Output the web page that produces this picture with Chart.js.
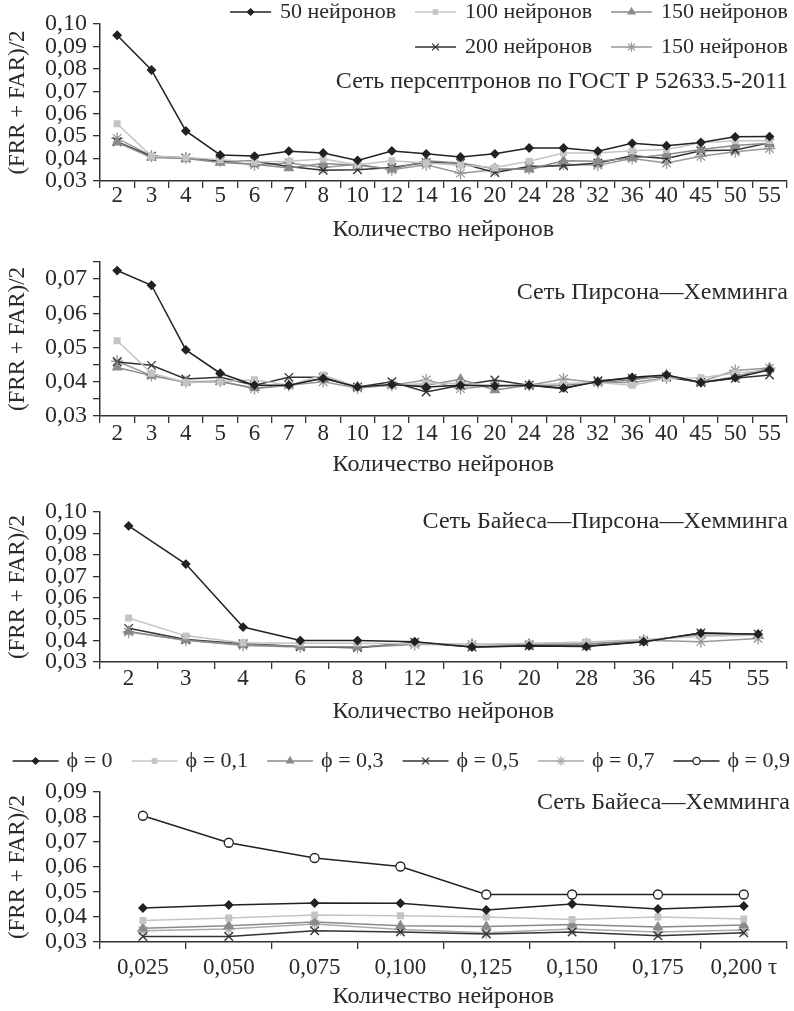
<!DOCTYPE html>
<html>
<head>
<meta charset="utf-8">
<script src="https://cdn.jsdelivr.net/npm/chart.js@4.4.1/dist/chart.umd.min.js"></script>
<style>
  body { margin: 0; background: #fff; }
  .box { position: absolute; left: 0; width: 794px; }
</style>
</head>
<body>
<div class="box" style="top:0px"><canvas id="c1" width="794" height="244"></canvas></div>
<div class="box" style="top:240px"><canvas id="c2" width="794" height="239"></canvas></div>
<div class="box" style="top:480px"><canvas id="c3" width="794" height="246"></canvas></div>
<div class="box" style="top:728px"><canvas id="c4" width="794" height="283"></canvas></div>
<script>
// категории (количество нейронов)
const neurons = ['2', '3', '4', '5', '6', '7', '8', '10', '12', '14', '16', '20', '24', '28', '32', '36', '40', '45', '50', '55'];
const neuronsBPH = ['2', '3', '4', '6', '8', '12', '16', '20', '28', '36', '45', '55'];
const taus = ['0,025', '0,050', '0,075', '0,100', '0,125', '0,150', '0,175', '0,200'];

const netNames = ['50 нейронов', '100 нейронов', '150 нейронов', '200 нейронов', '150 нейронов'];
const phiNames = ['ϕ = 0', 'ϕ = 0,1', 'ϕ = 0,3', 'ϕ = 0,5', 'ϕ = 0,7', 'ϕ = 0,9'];

// Сеть персептронов по ГОСТ
const gost50 = [0.0950, 0.0795, 0.0523, 0.0416, 0.0411, 0.0433, 0.0425, 0.0392, 0.0434, 0.0421, 0.0407, 0.0421, 0.0447, 0.0447, 0.0433, 0.0468, 0.0457, 0.0472, 0.0497, 0.0498];
const gost100 = [0.0555, 0.0410, 0.0405, 0.0395, 0.0385, 0.0388, 0.0398, 0.0372, 0.0390, 0.0380, 0.0370, 0.0360, 0.0388, 0.0425, 0.0425, 0.0435, 0.0440, 0.0470, 0.0480, 0.0480];
const gost150 = [0.0472, 0.0405, 0.0400, 0.0382, 0.0375, 0.0358, 0.0378, 0.0370, 0.0352, 0.0390, 0.0380, 0.0355, 0.0352, 0.0390, 0.0388, 0.0402, 0.0418, 0.0440, 0.0458, 0.0468];
const gost200 = [0.0475, 0.0410, 0.0402, 0.0390, 0.0388, 0.0365, 0.0348, 0.0350, 0.0360, 0.0382, 0.0380, 0.0338, 0.0365, 0.0368, 0.0380, 0.0412, 0.0400, 0.0435, 0.0438, 0.0470];
const gost150b = [0.0490, 0.0412, 0.0403, 0.0390, 0.0372, 0.0380, 0.0360, 0.0375, 0.0350, 0.0372, 0.0335, 0.0350, 0.0355, 0.0375, 0.0370, 0.0400, 0.0380, 0.0410, 0.0430, 0.0445];

// Сеть Пирсона—Хемминга
const ph50 = [0.0725, 0.0682, 0.0493, 0.0425, 0.0390, 0.0390, 0.0410, 0.0385, 0.0392, 0.0385, 0.0390, 0.0388, 0.0390, 0.0382, 0.0400, 0.0413, 0.0420, 0.0398, 0.0412, 0.0435];
const ph100 = [0.0520, 0.0425, 0.0398, 0.0400, 0.0406, 0.0390, 0.0420, 0.0385, 0.0390, 0.0395, 0.0395, 0.0390, 0.0390, 0.0395, 0.0398, 0.0390, 0.0410, 0.0412, 0.0425, 0.0435];
const ph150 = [0.0442, 0.0418, 0.0398, 0.0400, 0.0382, 0.0390, 0.0410, 0.0385, 0.0390, 0.0390, 0.0407, 0.0376, 0.0390, 0.0390, 0.0398, 0.0405, 0.0420, 0.0398, 0.0415, 0.0440];
const ph200 = [0.0458, 0.0448, 0.0408, 0.0413, 0.0390, 0.0413, 0.0413, 0.0385, 0.0400, 0.0370, 0.0390, 0.0405, 0.0390, 0.0380, 0.0403, 0.0410, 0.0415, 0.0398, 0.0410, 0.0420];
const ph150b = [0.0460, 0.0418, 0.0400, 0.0402, 0.0380, 0.0390, 0.0400, 0.0382, 0.0390, 0.0405, 0.0380, 0.0390, 0.0390, 0.0408, 0.0398, 0.0398, 0.0412, 0.0400, 0.0433, 0.0440];

// Сеть Байеса—Пирсона—Хемминга
const bph50 = [0.0935, 0.0757, 0.0463, 0.0400, 0.0400, 0.0395, 0.0370, 0.0375, 0.0372, 0.0395, 0.0435, 0.0430];
const bph100 = [0.0505, 0.0422, 0.0390, 0.0388, 0.0388, 0.0385, 0.0382, 0.0387, 0.0393, 0.0405, 0.0420, 0.0425];
const bph150 = [0.0442, 0.0402, 0.0382, 0.0372, 0.0370, 0.0385, 0.0380, 0.0383, 0.0382, 0.0400, 0.0425, 0.0428];
const bph200 = [0.0457, 0.0405, 0.0385, 0.0372, 0.0367, 0.0392, 0.0370, 0.0376, 0.0375, 0.0395, 0.0435, 0.0430];
const bph150b = [0.0440, 0.0402, 0.0377, 0.0370, 0.0368, 0.0382, 0.0382, 0.0383, 0.0385, 0.0402, 0.0395, 0.0410];

// Сеть Байеса—Хемминга
const phi0 = [0.0436, 0.0448, 0.0456, 0.0455, 0.0428, 0.0452, 0.0432, 0.0444];
const phi01 = [0.0386, 0.0396, 0.0408, 0.0405, 0.0400, 0.0390, 0.0400, 0.0392];
const phi03 = [0.0355, 0.0365, 0.0380, 0.0365, 0.0362, 0.0370, 0.0360, 0.0368];
const phi05 = [0.0322, 0.0322, 0.0345, 0.0340, 0.0332, 0.0340, 0.0325, 0.0337];
const phi07 = [0.0345, 0.0352, 0.0372, 0.0350, 0.0337, 0.0352, 0.0340, 0.0348];
const phi09 = [0.0805, 0.0697, 0.0636, 0.0602, 0.0490, 0.0490, 0.0490, 0.0490];

const FAMILY = '"Liberation Serif", "Times New Roman", serif';
const TXT = '#2a2a2a';

// стили линий: цвет, маркер, размер, заливка
const styles = [
  { color: '#222222', point: 'rectRot', r: 4, fill: '#222222' },
  { color: '#c4c4c4', point: 'rect', r: 4, fill: '#c4c4c4' },
  { color: '#8a8a8a', point: 'triangle', r: 5, fill: '#8a8a8a' },
  { color: '#333333', point: 'crossRot', r: 6, fill: '#333333' },
  { color: '#999999', point: 'star', r: 6, fill: '#999999' },
  { color: '#222222', point: 'circle', r: 4.5, fill: '#ffffff' }
];

function makeSets(names, series, styleList) {
  return series.map((d, i) => ({
    label: names[i],
    data: d,
    borderColor: styleList[i].color,
    backgroundColor: styleList[i].fill,
    pointStyle: styleList[i].point,
    pointRadius: styleList[i].r,
    pointBackgroundColor: styleList[i].fill,
    pointBorderColor: styleList[i].color,
    pointBorderWidth: 1.3,
    borderWidth: 1.5,
    tension: 0
  }));
}

// подписи внутри поля и легенда
const overlay = {
  id: 'overlay',
  afterDraw(chart, args, opts) {
    const ctx = chart.ctx;
    ctx.save();
    ctx.textBaseline = 'middle';
    ctx.fillStyle = TXT;
    if (opts.title) {
      ctx.font = '24px ' + FAMILY;
      ctx.textAlign = 'right';
      ctx.fillText(opts.title, opts.right, opts.titleY);
    }
    if (opts.rows) {
      ctx.font = '22px ' + FAMILY;
      ctx.textAlign = 'left';
      opts.rows.forEach((row, r) => {
        let x = opts.right;
        const y = opts.rowY[r];
        for (let k = row.length - 1; k >= 0; k--) {
          const ds = chart.data.datasets[row[k]];
          const w = ctx.measureText(ds.label).width;
          ctx.fillStyle = TXT;
          ctx.fillText(ds.label, x - w, y);
          x -= w + opts.gap;
          ctx.strokeStyle = ds.borderColor;
          ctx.lineWidth = 1.5;
          ctx.beginPath();
          ctx.moveTo(x - opts.lineLen, y);
          ctx.lineTo(x, y);
          ctx.stroke();
          ctx.fillStyle = ds.pointBackgroundColor;
          ctx.lineWidth = 1.2;
          Chart.helpers.drawPoint(ctx, { pointStyle: ds.pointStyle, radius: ds.pointRadius * 0.8, rotation: 0, borderWidth: 1.2 }, x - opts.lineLen / 2, y);
          x -= opts.lineLen + opts.spacing;
        }
      });
    }
    ctx.restore();
  }
};
Chart.register(overlay);

function fmt(v) {
  const c = Math.round(v * 1000);
  if (c % 10 !== 0) return '';
  return v.toFixed(2).replace('.', ',');
}

function makeChart(id, labels, sets, y, x, pad, ov) {
  return new Chart(document.getElementById(id), {
    type: 'line',
    data: { labels: labels, datasets: sets },
    options: {
      responsive: false,
      animation: false,
      layout: { padding: { top: pad, right: 1, left: 0, bottom: 0 } },
      plugins: { legend: { display: false }, tooltip: { enabled: false }, overlay: ov },
      scales: {
        x: {
          type: 'category',
          offset: true,
          grid: { offset: true, drawOnChartArea: false, tickLength: 7, color: '#333', lineWidth: 1.3 },
          border: { color: '#333', width: 1.5 },
          ticks: { autoSkip: false, maxRotation: 0, color: TXT, font: { family: FAMILY, size: 23 }, padding: x.padding,
                   callback: x.callback || function (v, i) { return labels[i]; } },
          title: { display: true, text: 'Количество нейронов', color: TXT, font: { family: FAMILY, size: 24 }, padding: { top: 0, bottom: 0 } },
          afterFit(s) { s.height = x.height; }
        },
        y: {
          min: y.min, max: y.max,
          grid: { drawOnChartArea: false, tickLength: 7, color: '#333', lineWidth: 1.3 },
          border: { color: '#333', width: 1.5 },
          ticks: { autoSkip: false, stepSize: y.step, color: TXT, font: { family: FAMILY, size: 24 }, padding: 6, callback: fmt },
          title: { display: true, text: '(FRR + FAR)/2', color: TXT, font: { family: FAMILY, size: 23 }, padding: { top: 4, bottom: 0 } },
          afterFit(s) { s.width = 100; }
        }
      }
    }
  });
}

makeChart('c1', neurons,
  makeSets(netNames, [gost50, gost100, gost150, gost200, gost150b], styles),
  { min: 0.03, max: 0.10, step: 0.01 }, { padding: -6, height: 63 }, 24,
  { title: 'Сеть персептронов по ГОСТ Р 52633.5-2011', titleY: 82, right: 788,
    rows: [[0, 1, 2], [3, 4]], rowY: [12, 47], gap: 9, lineLen: 41, spacing: 19 });

makeChart('c2', neurons,
  makeSets(netNames, [ph50, ph100, ph150, ph200, ph150b], styles),
  { min: 0.03, max: 0.075, step: 0.005 }, { padding: -3, height: 63 }, 22,
  { title: 'Сеть Пирсона—Хемминга', titleY: 53, right: 788 });

makeChart('c3', neuronsBPH,
  makeSets(netNames, [bph50, bph100, bph150, bph200, bph150b], styles),
  { min: 0.03, max: 0.10, step: 0.01 }, { padding: -4, height: 64 }, 32,
  { title: 'Сеть Байеса—Пирсона—Хемминга', titleY: 42, right: 788 });

const phiStyles = styles.map((s, i) => i === 4 ? { color: '#aaaaaa', point: 'star', r: 6, fill: '#aaaaaa' } : s);
makeChart('c4', taus,
  makeSets(phiNames, [phi0, phi01, phi03, phi05, phi07, phi09], phiStyles),
  { min: 0.03, max: 0.09, step: 0.01 },
  { padding: 5, height: 69, callback: function (v, i) { return i === taus.length - 1 ? taus[i] + ' τ' : taus[i]; } }, 64,
  { title: 'Сеть Байеса—Хемминга', titleY: 75, right: 790,
    rows: [[0, 1, 2, 3, 4, 5]], rowY: [33], gap: 8, lineLen: 46, spacing: 19 });
</script>
</body>
</html>
